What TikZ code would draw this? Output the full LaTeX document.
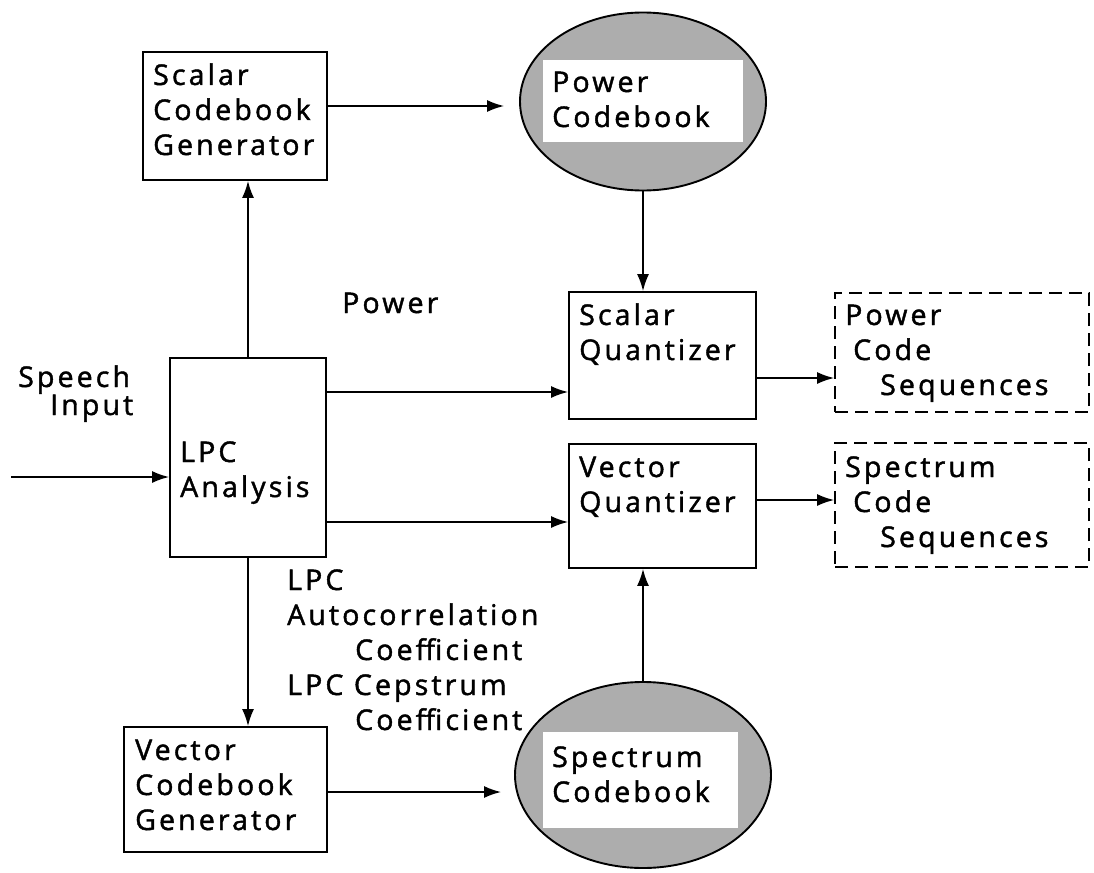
\documentclass[tikz,border=0pt]{standalone}
\usepackage{fontspec}
\setmainfont{Open Sans}[LetterSpace=11,FakeBold=1.5]
\usetikzlibrary{shapes.geometric,arrows.meta}
\begin{document}
\begin{tikzpicture}[x=1pt,y=-1pt,
  box/.style={draw, line width=1.8pt, rectangle, inner sep=0pt},
  dbox/.style={box, dash pattern=on 13pt off 7pt},
  cbook/.style={draw, line width=1.9pt, ellipse, fill=black!32, inner sep=0pt},
  win/.style={fill=white, rectangle, inner sep=0pt},
  txt/.style={anchor=base west, inner sep=0pt, font=\fontsize{28.5}{35}\selectfont},
  arr/.style={line width=1.7pt, -{Latex[length=17pt,width=12pt]}}]
\useasboundingbox (0,0) rectangle (1094,872);
\fill[white] (0,0) rectangle (1094,872);

% boxes
\node[box, minimum width=184pt, minimum height=128pt] (scg) at (235,116) {};
\node[box, minimum width=156pt, minimum height=199pt] (lpc) at (248,457.5) {};
\node[box, minimum width=203pt, minimum height=125pt] (vcg) at (225.5,789.5) {};
\node[box, minimum width=187pt, minimum height=127pt] (sq) at (662.5,355.5) {};
\node[box, minimum width=187pt, minimum height=124pt] (vq) at (662.5,506) {};
\node[dbox, minimum width=254pt, minimum height=119pt] (pcs) at (962,352.5) {};
\node[dbox, minimum width=254pt, minimum height=124pt] (scs) at (962,505) {};

% codebooks
\node[cbook, minimum width=246pt, minimum height=178pt] (pcb) at (643,101.5) {};
\node[win, minimum width=200pt, minimum height=82pt] (pcbw) at (643,101) {};
\node[cbook, minimum width=256pt, minimum height=186pt] (scb) at (643,775) {};
\node[win, minimum width=195pt, minimum height=96pt] (scbw) at (640.5,780) {};

% texts
\node[txt] (tscg) at (153,85) {\begin{tabular}[t]{@{}l@{}}Scalar\\Codebook\\Generator\end{tabular}};
\node[txt] (tpcb) at (552,92) {\begin{tabular}[t]{@{}l@{}}Power\\Codebook\end{tabular}};
\node[txt] (tscb) at (552,767) {\begin{tabular}[t]{@{}l@{}}Spectrum\\Codebook\end{tabular}};
\node[txt] (tsq) at (579,325) {\begin{tabular}[t]{@{}l@{}}Scalar\\Quantizer\end{tabular}};
\node[txt] (tvq) at (579,477) {\begin{tabular}[t]{@{}l@{}}Vector\\Quantizer\end{tabular}};
\node[txt] (tlpc) at (180,462) {\begin{tabular}[t]{@{}l@{}}LPC\\Analysis\end{tabular}};
\node[txt] (tvcg) at (135,760) {\begin{tabular}[t]{@{}l@{}}Vector\\Codebook\\Generator\end{tabular}};
\node[txt] (tsp) at (18,387) {\begin{tabular}[t]{@{}l@{}}Speech\\[-7pt]\hspace*{32pt}Input\end{tabular}};
\node[txt] (tpow) at (342,313) {Power};
\node[txt] (tpcs) at (845,325) {\begin{tabular}[t]{@{}l@{}}Power\\\hspace*{8pt}Code\\\hspace*{35pt}Sequences\end{tabular}};
\node[txt] (tscs) at (845,477) {\begin{tabular}[t]{@{}l@{}}Spectrum\\\hspace*{8pt}Code\\\hspace*{35pt}Sequences\end{tabular}};
\node[txt] (tcoef) at (287,590) {\begin{tabular}[t]{@{}l@{}}LPC\\Autocorrelation\\\hspace*{68pt}Coefficient\\LPC Cepstrum\\\hspace*{68pt}Coefficient\end{tabular}};

% connectors
\coordinate (in) at (11,477);
\coordinate (y1) at (0,106);
\coordinate (y2) at (0,792);
\coordinate (y3) at (0,392);
\coordinate (y4) at (0,522);
\coordinate (y5) at (0,378);
\coordinate (y6) at (0,500);
\draw[arr] (in) -- (lpc.west |- in);
\draw[arr] (lpc.north) -- (lpc.north |- scg.south);
\draw[arr] (lpc.south) -- (lpc.south |- vcg.north);
\draw[arr, shorten >=15pt] (scg.east |- y1) -- (pcb.west |- y1);
\draw[arr, shorten >=13pt] (vcg.east |- y2) -- (scb.west |- y2);
\draw[arr] (pcb.south) -- (pcb.south |- sq.north);
\draw[arr] (scb.north) -- (scb.north |- vq.south);
\draw[arr] (lpc.east |- y3) -- (sq.west |- y3);
\draw[arr] (lpc.east |- y4) -- (vq.west |- y4);
\draw[arr] (sq.east |- y5) -- (pcs.west |- y5);
\draw[arr] (vq.east |- y6) -- (scs.west |- y6);
\end{tikzpicture}
\end{document}
